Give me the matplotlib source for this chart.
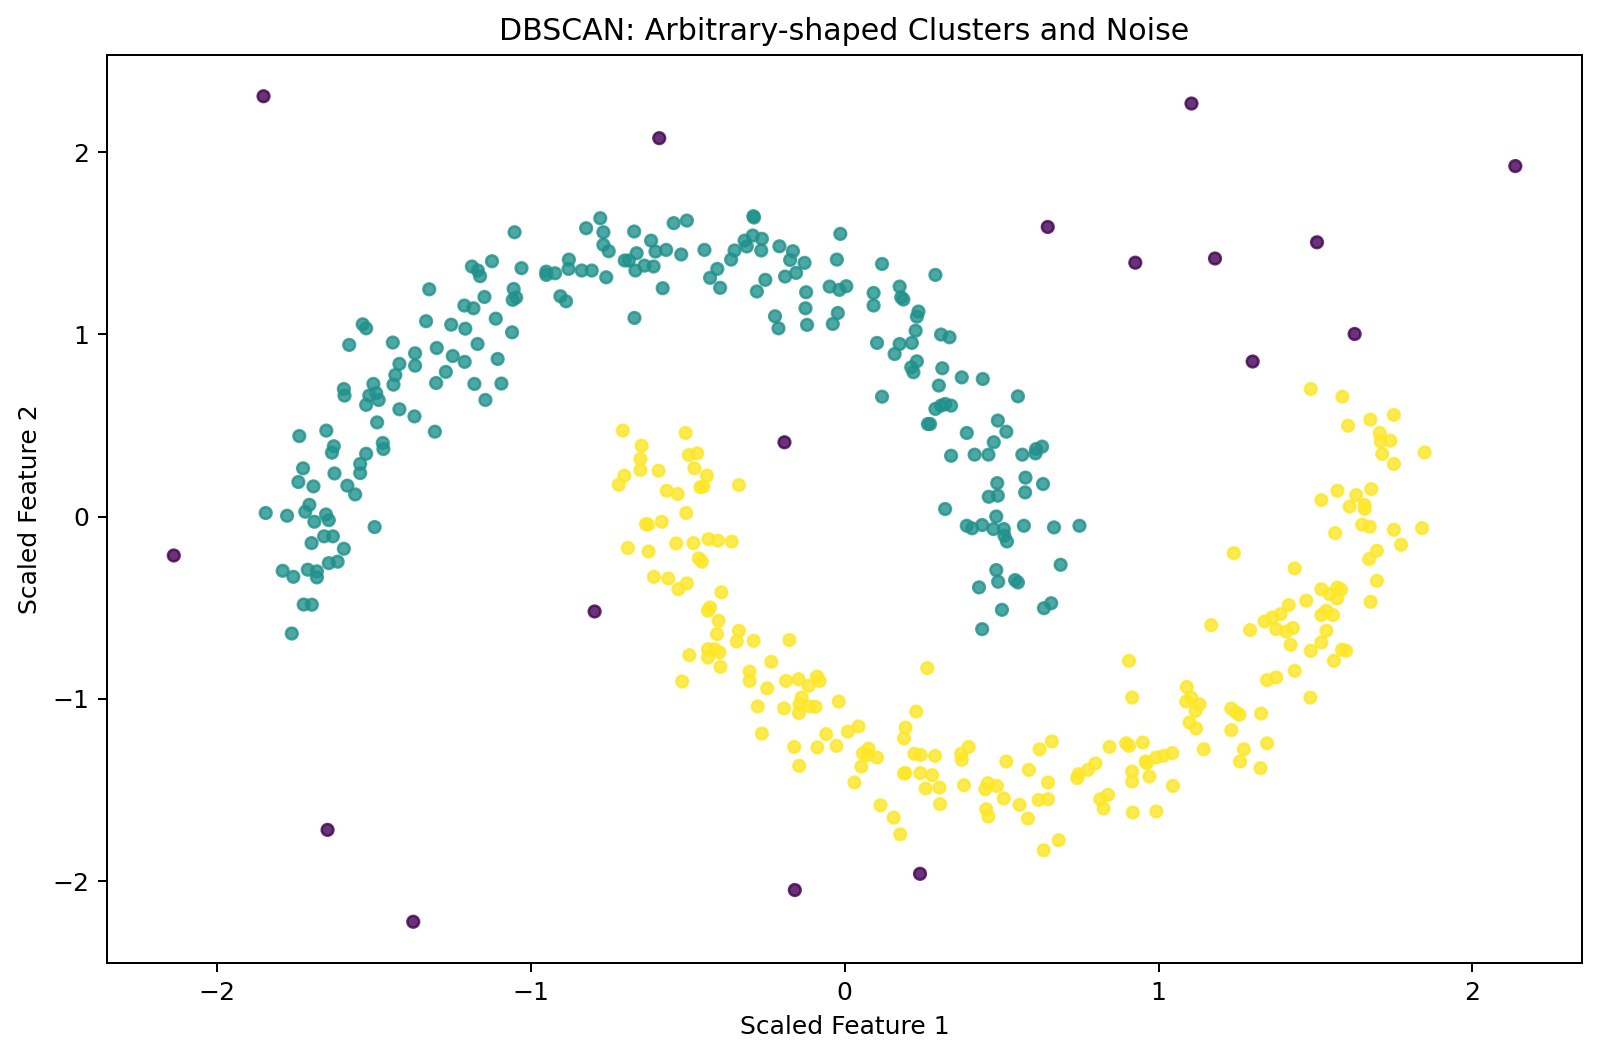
import matplotlib
matplotlib.use("Agg")
import matplotlib.pyplot as plt
import numpy as np

# Noise points (label -1)
noise_x = [-1.852, -0.591, 1.105, 2.137, 0.647, 0.926, 1.180, 1.505, 1.625, 1.300,
           -0.192, -2.138, -0.797, -1.648, -1.375, -0.159, 0.240]
noise_y = [2.306, 2.076, 2.266, 1.923, 1.589, 1.393, 1.416, 1.505, 1.002, 0.851,
           0.408, -0.213, -0.520, -1.718, -2.222, -2.048, -1.959]

# Cluster 0 (upper moon)
c0_x = [
    -1.188, -1.169, -1.162, -1.124, -1.030, -1.324, -1.055, -1.058, -1.047, -1.148,
    -1.212, -1.183, -1.334, -1.254, -1.209, -1.112, -1.060, -1.536, -1.525, -1.579,
    -1.440, -1.369, -1.369, -1.419, -1.300, -1.249, -1.211, -1.170, -1.106, -1.432,
    -1.438, -1.502, -1.271, -1.302, -1.180, -1.094, -1.145, -1.596, -1.594, -1.515,
    -1.493, -1.525, -1.485, -1.419, -1.371, -1.490, -1.306, -1.738, -1.652, -1.628,
    -1.634, -1.472, -1.470, -1.525, -1.544, -1.544, -1.726, -1.626, -1.741, -1.693,
    -1.585, -1.560, -1.706, -1.719, -1.653, -1.644, -1.690, -1.845, -1.777, -1.498,
    -1.659, -1.631, -1.699, -1.596, -1.791, -1.757, -1.711, -1.682, -1.682, -1.644,
    -1.616, -1.724, -1.698, -1.762,
    -1.052, -0.951, -0.951, -0.923, -0.879, -0.880, -0.906, -0.888, -0.838, -0.806,
    -0.760, -0.824, -0.779, -0.769, -0.769, -0.752, -0.670, -0.671, -0.701, -0.688,
    -0.663, -0.667, -0.638, -0.609, -0.617, -0.603, -0.569, -0.580, -0.545, -0.503,
    -0.521, -0.447, -0.429, -0.406, -0.397, -0.362, -0.351, -0.319, -0.312, -0.293,
    -0.264, -0.266, -0.291, -0.289, -0.253, -0.280, -0.208, -0.165, -0.174, -0.190,
    -0.155, -0.222, -0.211, -0.014,
    -0.128, -0.123, -0.125, -0.120, -0.025, -0.048, -0.017, 0.005, -0.022, -0.038,
    0.119, 0.289, 0.092, 0.092, 0.175, 0.180, 0.187, 0.235, 0.230, 0.226,
    0.103, 0.175, 0.214, 0.159, 0.230, 0.212, 0.219, 0.307, 0.334, 0.311,
    0.373, 0.440, 0.300, 0.119, 0.289, 0.320, 0.339, 0.307, 0.265, 0.272,
    0.552, 0.488, 0.515, 0.389, 0.475, 0.339, 0.414, 0.458, 0.566, 0.608,
    0.629, 0.610, 0.486, 0.459, 0.488, 0.576, 0.575, 0.632, 0.320, 0.389,
    0.406, 0.438, 0.483, 0.474, 0.507, 0.509, 0.517, 0.571, 0.667, 0.748,
    0.688, 0.483, 0.489, 0.543, 0.552, 0.428, 0.501, 0.635, 0.658, 0.438,
]
c0_y = [
    1.372, 1.350, 1.319, 1.401, 1.363, 1.247, 1.249, 1.189, 1.202, 1.205,
    1.158, 1.143, 1.072, 1.053, 1.031, 1.086, 1.011, 1.055, 1.033, 0.942,
    0.955, 0.896, 0.828, 0.838, 0.925, 0.881, 0.849, 0.947, 0.865, 0.777,
    0.724, 0.728, 0.794, 0.733, 0.728, 0.730, 0.640, 0.700, 0.664, 0.664,
    0.678, 0.613, 0.640, 0.589, 0.550, 0.517, 0.466, 0.442, 0.472, 0.386,
    0.351, 0.404, 0.371, 0.345, 0.289, 0.239, 0.265, 0.237, 0.190, 0.166,
    0.170, 0.122, 0.065, 0.027, 0.012, -0.019, -0.028, 0.020, 0.005, -0.057,
    -0.108, -0.108, -0.145, -0.176, -0.297, -0.330, -0.291, -0.300, -0.333, -0.255,
    -0.247, -0.482, -0.483, -0.641,
    1.560, 1.344, 1.326, 1.335, 1.410, 1.359, 1.209, 1.181, 1.350, 1.350,
    1.313, 1.582, 1.637, 1.560, 1.491, 1.456, 1.090, 1.564, 1.405, 1.405,
    1.445, 1.350, 1.377, 1.372, 1.514, 1.454, 1.463, 1.253, 1.610, 1.624,
    1.438, 1.463, 1.310, 1.359, 1.255, 1.410, 1.460, 1.514, 1.482, 1.542,
    1.524, 1.460, 1.648, 1.641, 1.299, 1.235, 1.483, 1.456, 1.408, 1.317,
    1.337, 1.099, 1.033, 1.551,
    1.392, 1.231, 1.143, 1.052, 1.410, 1.262, 1.244, 1.264, 1.117, 1.057,
    1.386, 1.326, 1.227, 1.158, 1.262, 1.203, 1.191, 1.125, 1.097, 1.020,
    0.953, 0.947, 0.953, 0.892, 0.852, 0.819, 0.792, 0.999, 0.984, 0.814,
    0.764, 0.755, 0.719, 0.658, 0.591, 0.618, 0.609, 0.609, 0.508, 0.508,
    0.660, 0.527, 0.466, 0.459, 0.408, 0.334, 0.340, 0.340, 0.340, 0.347,
    0.384, 0.371, 0.184, 0.109, 0.115, 0.214, 0.133, 0.179, 0.042, -0.050,
    -0.064, -0.046, 0.001, -0.068, -0.068, -0.105, -0.136, -0.050, -0.059, -0.050,
    -0.264, -0.293, -0.357, -0.348, -0.361, -0.388, -0.511, -0.502, -0.475, -0.617,
]

# Cluster 1 (lower moon)
c1_x = [
    -0.707, -0.507, -0.647, -0.651, -0.651, -0.702, -0.720, -0.593, -0.497, -0.470,
    -0.479, -0.439, -0.460, -0.450, -0.567, -0.532, -0.337, -0.505, -0.633, -0.627,
    -0.583, -0.691, -0.625, -0.537, -0.482, -0.434, -0.404, -0.360, -0.465, -0.455,
    -0.608, -0.562, -0.530, -0.503, -0.393, -0.429, -0.436, -0.402, -0.407, -0.337,
    -0.344, -0.290, -0.176, -0.495, -0.436, -0.415, -0.399, -0.436, -0.396, -0.518,
    -0.303, -0.303, -0.247, -0.234, -0.187, -0.147, -0.115, -0.088, -0.080, -0.137,
    -0.144, -0.112, -0.093, -0.146, -0.193, -0.277, -0.019, -0.264, -0.059, -0.161,
    -0.087, -0.026, -0.145,
    0.263, 0.906, 0.916, 0.228, 0.194, 0.189, 0.010, 0.044, 0.076, 0.058,
    0.074, 0.103, 0.053, 0.031, 0.222, 0.242, 0.288, 0.189, 0.193, 0.241,
    0.279, 0.258, 0.302, 0.304, 0.114, 0.156, 0.177, 0.371, 0.395, 0.373,
    0.380, 0.448, 0.456, 0.485, 0.507, 0.451, 0.458, 0.515, 0.587, 0.621,
    0.660, 0.648, 0.557, 0.618, 0.648, 0.584, 0.634, 0.682, 0.741, 0.745,
    0.775, 0.799, 0.844, 0.897, 0.906, 0.950, 0.959, 0.963, 0.993, 1.016,
    1.044, 0.916, 0.916, 0.971, 1.046, 0.814, 0.839, 0.825, 0.918, 0.993,
    1.485, 1.586, 1.604, 1.675, 1.750, 1.705, 1.708, 1.739, 1.713, 1.750,
    1.848, 1.519, 1.570, 1.630, 1.678, 1.609, 1.657, 1.657, 1.649, 1.673,
    1.563, 1.750, 1.840, 1.773, 1.696, 1.671, 1.240, 1.434, 1.696, 1.519,
    1.545, 1.570, 1.582, 1.569, 1.676, 1.471, 1.415, 1.389, 1.362, 1.338,
    1.375, 1.407, 1.428, 1.292, 1.168, 1.519, 1.535, 1.556, 1.535, 1.519,
    1.421, 1.485, 1.585, 1.598, 1.559, 1.434, 1.375, 1.346, 1.484, 1.090,
    1.088, 1.104, 1.131, 1.118, 1.099, 1.120, 1.232, 1.248, 1.258, 1.327,
    1.232, 1.346, 1.272, 1.144, 1.260, 1.325,
]
c1_y = [
    0.472, 0.459, 0.389, 0.316, 0.256, 0.225, 0.175, 0.252, 0.338, 0.347,
    0.265, 0.225, 0.161, 0.166, 0.142, 0.124, 0.173, 0.020, -0.041, -0.044,
    -0.028, -0.172, -0.191, -0.147, -0.145, -0.123, -0.132, -0.137, -0.229, -0.247,
    -0.330, -0.339, -0.397, -0.366, -0.415, -0.498, -0.516, -0.571, -0.644, -0.626,
    -0.685, -0.681, -0.677, -0.760, -0.727, -0.727, -0.745, -0.773, -0.824, -0.904,
    -0.850, -0.901, -0.942, -0.796, -0.901, -0.892, -0.928, -0.877, -0.901, -0.992,
    -1.029, -1.041, -1.043, -1.078, -1.052, -1.041, -1.014, -1.190, -1.193, -1.263,
    -1.266, -1.257, -1.367,
    -0.831, -0.791, -0.992, -1.069, -1.157, -1.217, -1.179, -1.151, -1.272, -1.299,
    -1.308, -1.321, -1.371, -1.458, -1.301, -1.307, -1.312, -1.409, -1.407, -1.407,
    -1.418, -1.491, -1.486, -1.577, -1.583, -1.651, -1.742, -1.301, -1.263, -1.334,
    -1.473, -1.495, -1.462, -1.477, -1.546, -1.605, -1.645, -1.343, -1.389, -1.276,
    -1.233, -1.458, -1.581, -1.554, -1.550, -1.656, -1.830, -1.775, -1.434, -1.413,
    -1.389, -1.354, -1.263, -1.243, -1.257, -1.239, -1.343, -1.352, -1.321, -1.312,
    -1.297, -1.398, -1.453, -1.425, -1.477, -1.550, -1.526, -1.601, -1.623, -1.617,
    0.700, 0.658, 0.499, 0.532, 0.558, 0.459, 0.413, 0.417, 0.344, 0.289,
    0.352, 0.091, 0.142, 0.118, 0.151, 0.055, 0.064, 0.042, -0.044, -0.055,
    -0.090, -0.072, -0.063, -0.154, -0.187, -0.233, -0.200, -0.284, -0.352, -0.398,
    -0.425, -0.389, -0.401, -0.449, -0.467, -0.461, -0.485, -0.535, -0.553, -0.575,
    -0.617, -0.630, -0.611, -0.622, -0.595, -0.540, -0.516, -0.540, -0.626, -0.690,
    -0.703, -0.736, -0.730, -0.736, -0.791, -0.846, -0.882, -0.897, -0.992, -0.934,
    -1.014, -0.992, -1.029, -1.065, -1.129, -1.162, -1.053, -1.074, -1.087, -1.080,
    -1.171, -1.243, -1.276, -1.276, -1.343, -1.380,
]

x = np.array(c0_x + c1_x + noise_x)
y = np.array(c0_y + c1_y + noise_y)
labels = np.array([0] * len(c0_x) + [1] * len(c1_x) + [-1] * len(noise_x))

DPI = 180
fig = plt.figure(figsize=(1600 / DPI, 1057 / DPI), dpi=DPI)
ax = fig.add_axes([0.0667, 0.0889, 0.9223, 0.8591])
ax.scatter(x, y, c=labels, cmap="viridis", s=22, alpha=0.8)
ax.set_title("DBSCAN: Arbitrary-shaped Clusters and Noise")
ax.set_xlabel("Scaled Feature 1")
ax.set_ylabel("Scaled Feature 2")
fig.savefig("out.png", dpi=DPI)
